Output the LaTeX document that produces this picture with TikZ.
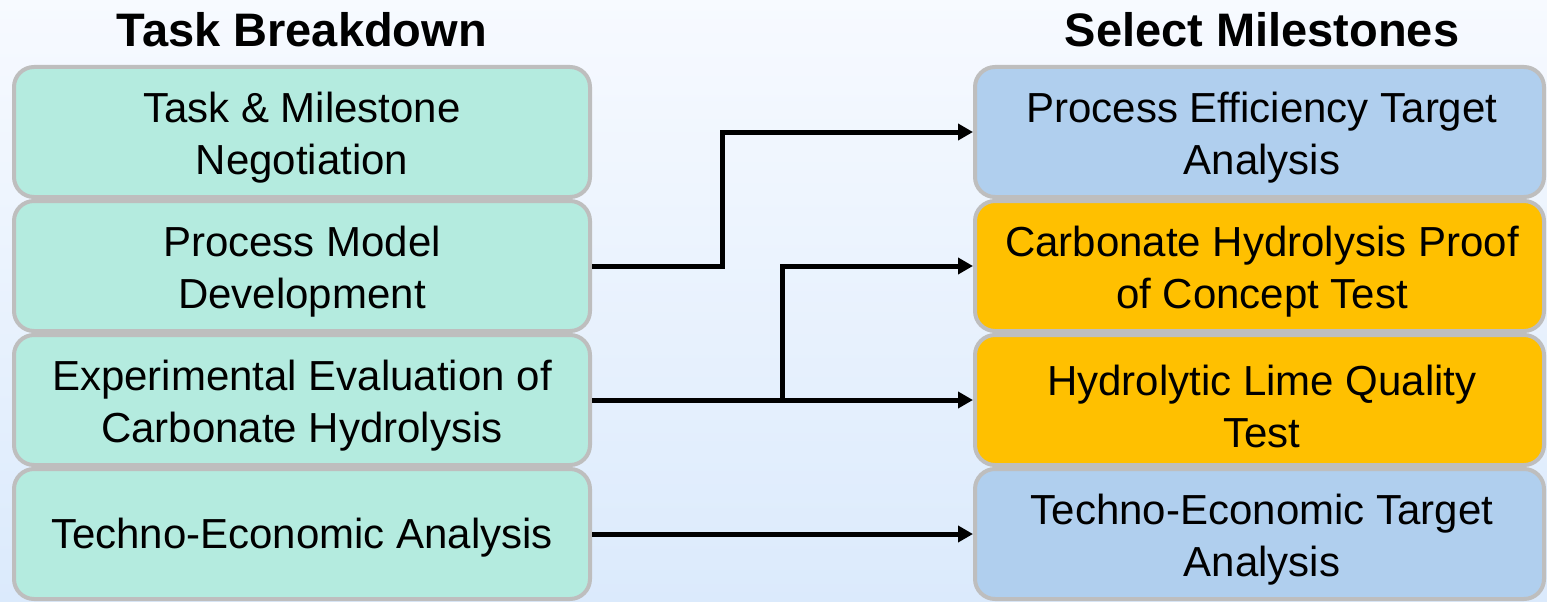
\documentclass[tikz,border=0pt]{standalone}
\usepackage{fontspec}
\setmainfont{Liberation Sans}
\usetikzlibrary{arrows.meta}
\definecolor{bgtop}{RGB}{247,250,255}
\definecolor{bgbot}{RGB}{219,234,252}
\definecolor{tealfill}{RGB}{180,235,223}
\definecolor{bluefill}{RGB}{176,207,238}
\definecolor{orangefill}{RGB}{255,192,0}
\definecolor{boxborder}{RGB}{190,190,190}
\tikzset{
  box/.style={draw=boxborder, line width=4pt, rounded corners=20pt,
    minimum height=130pt, inner sep=0pt},
  leftbox/.style={box, fill=tealfill, minimum width=576pt},
  rightbox/.style={box, minimum width=569pt},
  boxtext/.style={align=center, inner sep=0pt, font=\fontsize{42}{52}\selectfont},
  title/.style={font=\fontsize{47}{56}\selectfont\bfseries},
  conn/.style={line width=5pt, -{Triangle[length=15pt,width=16pt]}}
}
\begin{document}
\begin{tikzpicture}[x=1pt,y=-1pt]
\useasboundingbox (0,0) rectangle (1547,602);
\shade[top color=bgtop, bottom color=bgbot] (0,0) rectangle (1547,602);
\node[title] (t1) at (302,30) {Task Breakdown};
\node[title] (t2) at (1262,30) {Select Milestones};
\node[leftbox] (L1) at (302,132) {};
\node[leftbox] (L2) at (302,266) {};
\node[leftbox] (L3) at (302,400) {};
\node[leftbox] (L4) at (302,534) {};
\node[rightbox, fill=bluefill] (R1) at (1259.5,132) {};
\node[rightbox, fill=orangefill] (R2) at (1259.5,266) {};
\node[rightbox, fill=orangefill] (R3) at (1259.5,400) {};
\node[rightbox, fill=bluefill] (R4) at (1259.5,534) {};
\node[boxtext] (L1t) at ([yshift=-6pt]L1.center) {Task \& Milestone\\Negotiation};
\node[boxtext] (L2t) at ([yshift=-6pt]L2.center) {Process Model\\Development};
\node[boxtext] (L3t) at ([yshift=-6pt]L3.center) {Experimental Evaluation of\\Carbonate Hydrolysis};
\node[boxtext] (L4t) at ([yshift=-4pt]L4.center) {Techno-Economic Analysis};
\node[boxtext] (R1t) at ([xshift=2.5pt,yshift=-6pt]R1.center) {Process Efficiency Target\\Analysis};
\node[boxtext] (R2t) at ([xshift=2.5pt,yshift=-6pt]R2.center) {Carbonate Hydrolysis Proof\\of Concept Test};
\node[boxtext] (R3t) at ([xshift=2.5pt,yshift=-6pt]R3.center) {Hydrolytic Lime Quality\\Test};
\node[boxtext] (R4t) at ([xshift=2.5pt,yshift=-6pt]R4.center) {Techno-Economic Target\\Analysis};
\coordinate (j1) at (722,200);
\coordinate (j2) at (782,330);
\draw[conn] (L2.east) -| (j1) |- (R1.west);
\draw[conn] (L3.east) -| (j2) |- (R2.west);
\draw[conn] (L3.east) -- (R3.west);
\draw[conn] (L4.east) -- (R4.west);
\end{tikzpicture}
\end{document}
